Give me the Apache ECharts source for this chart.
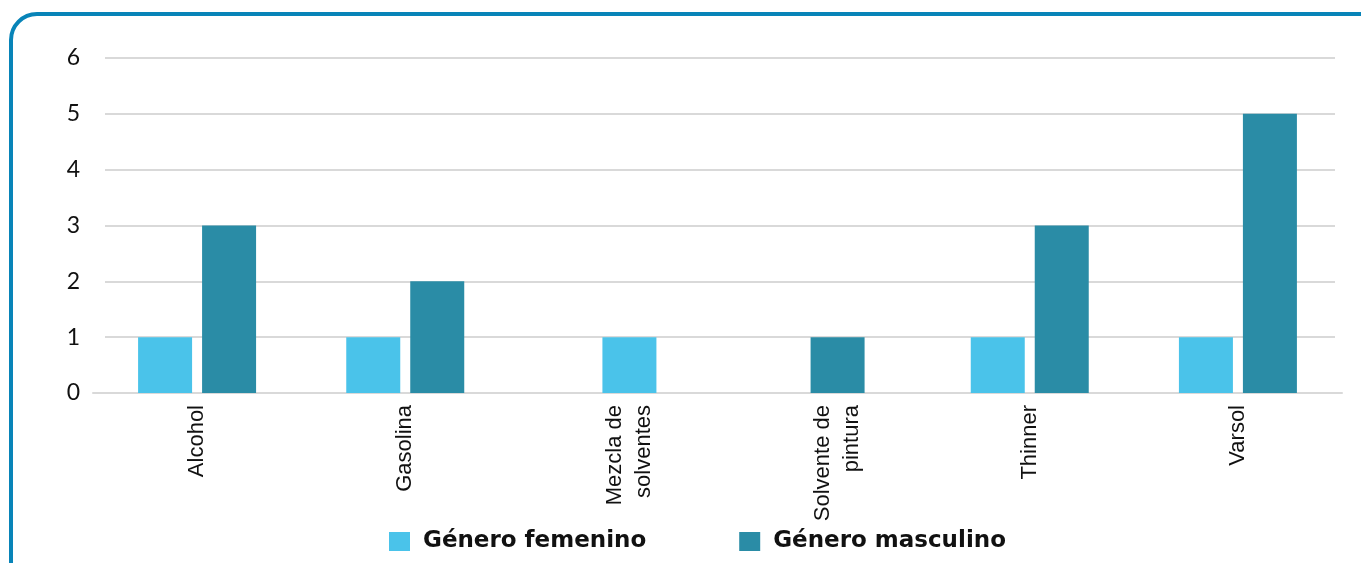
<!DOCTYPE html>
<html>
<head>
<meta charset="utf-8">
<script src="https://cdn.jsdelivr.net/npm/echarts@6/dist/echarts.min.js"></script>
<style>
  html, body { margin: 0; padding: 0; background: #fff; overflow: hidden; }
  #frame {
    position: absolute; left: 9px; top: 12px;
    width: 1400px; height: 700px;
    border: 4px solid #0884b8; border-radius: 28px;
    box-sizing: border-box;
  }
  #chart { position: absolute; left: 0; top: 0; width: 1361px; height: 563px; }
</style>
</head>
<body>
<div id="frame"></div>
<div id="chart"></div>
<script>
const categories = ['Alcohol', 'Gasolina', 'Mezcla de\nsolventes', 'Solvente de\npintura', 'Thinner', 'Varsol'];
const femenino = [1, 1, 1, 0, 1, 1];
const masculino = [3, 2, 0, 1, 3, 5];
const seriesNames = ['Género femenino', 'Género masculino'];
const yMax = 6;

const colorFem = '#4ac3ea';
const colorMasc = '#2a8ca6';

// categories with both bars are drawn side by side, the others get one centered bar
const paired = categories.map((c, i) => femenino[i] > 0 && masculino[i] > 0);
const pick = (arr, keepPaired) => arr.map((v, i) => (paired[i] === keepPaired && v > 0) ? v : null);

const labelStyle = {
  fontFamily: 'Liberation Sans', fontSize: 22, color: '#111', lineHeight: 29
};

let myChart = echarts.init(document.getElementById('chart'));

let option = {
  animation: false,
  legend: {
    data: seriesNames,
    left: 384, top: 525,
    icon: 'rect', itemWidth: 21, itemHeight: 19, itemGap: 93,
    textStyle: { fontFamily: 'DejaVu Sans', fontWeight: 'bold', fontSize: 23, color: '#111', padding: [0, 0, 0, 8] }
  },
  grid: [
    { left: 105, right: 26, top: 58, bottom: 170, containLabel: false, outerBoundsMode: 'none' },
    { left: 93, right: 19, top: 58, bottom: 170, containLabel: false, outerBoundsMode: 'none' },
    { left: 109, right: 3, top: 58, bottom: 170, containLabel: false, outerBoundsMode: 'none' }
  ],
  xAxis: [
    { gridIndex: 0, type: 'category', data: categories, show: false },
    {
      gridIndex: 1, type: 'category', data: categories,
      axisLine: { lineStyle: { color: '#d9d9d9', width: 2 } },
      axisTick: { show: false },
      axisLabel: Object.assign({ rotate: 90, margin: 12, interval: 0,
        formatter: (v, i) => paired[i] ? v : '' }, labelStyle)
    },
    {
      gridIndex: 2, type: 'category', data: categories,
      axisLine: { show: false }, axisTick: { show: false },
      axisLabel: Object.assign({ rotate: 90, margin: 12, interval: 0,
        formatter: (v, i) => paired[i] ? '' : v }, labelStyle)
    }
  ],
  yAxis: [
    {
      gridIndex: 0, type: 'value', min: 0, max: yMax, interval: 1,
      axisLine: { show: false }, axisTick: { show: false },
      axisLabel: { margin: 25, fontFamily: 'Lato', fontSize: 23, color: '#111' },
      splitLine: { lineStyle: { color: '#d9d9d9', width: 2 } }
    },
    { gridIndex: 1, type: 'value', min: 0, max: yMax, interval: 1, show: false, splitLine: { show: false } },
    { gridIndex: 2, type: 'value', min: 0, max: yMax, interval: 1, show: false, splitLine: { show: false } }
  ],
  series: [
    { name: seriesNames[0], type: 'bar', xAxisIndex: 1, yAxisIndex: 1, data: pick(femenino, true),
      barWidth: 54, barGap: '18.5%', itemStyle: { color: colorFem } },
    { name: seriesNames[1], type: 'bar', xAxisIndex: 1, yAxisIndex: 1, data: pick(masculino, true),
      barWidth: 54, barGap: '18.5%', itemStyle: { color: colorMasc } },
    { name: seriesNames[0], type: 'bar', xAxisIndex: 2, yAxisIndex: 2, data: pick(femenino, false),
      stack: 'solo', barWidth: 54, itemStyle: { color: colorFem } },
    { name: seriesNames[1], type: 'bar', xAxisIndex: 2, yAxisIndex: 2, data: pick(masculino, false),
      stack: 'solo', barWidth: 54, itemStyle: { color: colorMasc } }
  ]
};
option && myChart.setOption(option);
</script>
</body>
</html>
